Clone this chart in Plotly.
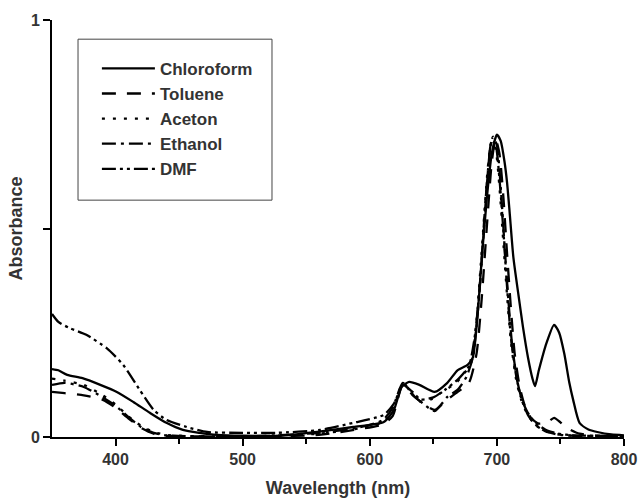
import plotly.graph_objects as go

# ---- data ----
chloroform_x = [350, 355, 362, 374, 388, 401, 414, 427, 440, 453, 466, 480, 500, 530, 560, 587, 611, 619, 625, 631, 639, 651, 661, 669, 677, 681, 685, 688, 692, 696, 700, 703, 706, 708, 710, 713, 717, 720.5, 724.5, 728, 730, 733, 739, 745, 749, 753, 757, 760, 765, 772, 779, 790, 800]
chloroform_y = [0.163, 0.160, 0.149, 0.141, 0.125, 0.108, 0.084, 0.058, 0.034, 0.017, 0.010, 0.005, 0.003, 0.003, 0.013, 0.024, 0.036, 0.065, 0.120, 0.132, 0.125, 0.108, 0.130, 0.160, 0.173, 0.190, 0.300, 0.424, 0.570, 0.680, 0.725, 0.710, 0.660, 0.610, 0.540, 0.430, 0.340, 0.264, 0.190, 0.140, 0.122, 0.160, 0.225, 0.269, 0.250, 0.200, 0.130, 0.089, 0.034, 0.018, 0.012, 0.006, 0.004]

toluene_x = [350, 360, 375, 390, 400, 410, 420, 430, 440, 500, 560, 590, 610, 618, 626, 634, 642, 651, 661, 670, 678, 684, 688, 692, 696, 699, 702, 705, 708, 711, 714, 718, 722, 727, 733, 740, 745, 750, 755, 765, 780, 800]
toluene_y = [0.108, 0.105, 0.100, 0.089, 0.070, 0.045, 0.022, 0.008, 0.003, 0.001, 0.005, 0.018, 0.030, 0.050, 0.125, 0.100, 0.080, 0.065, 0.090, 0.110, 0.130, 0.200, 0.330, 0.500, 0.660, 0.715, 0.680, 0.580, 0.440, 0.310, 0.200, 0.120, 0.075, 0.045, 0.032, 0.036, 0.046, 0.035, 0.022, 0.008, 0.003, 0.002]

aceton_x = [350, 360, 375, 390, 400, 410, 420, 430, 440, 460, 500, 560, 590, 610, 618, 626, 633, 640, 648, 658, 668, 675, 680, 684, 687, 690, 693, 696, 699, 702, 705, 708, 711, 715, 719, 724, 730, 736, 745, 755, 800]
aceton_y = [0.140, 0.135, 0.125, 0.100, 0.078, 0.050, 0.027, 0.012, 0.005, 0.002, 0.001, 0.008, 0.020, 0.035, 0.060, 0.130, 0.105, 0.085, 0.090, 0.110, 0.130, 0.155, 0.180, 0.280, 0.400, 0.530, 0.650, 0.710, 0.690, 0.600, 0.470, 0.340, 0.230, 0.140, 0.090, 0.055, 0.030, 0.017, 0.008, 0.004, 0.002]

ethanol_x = [350, 360, 375, 390, 400, 410, 420, 430, 440, 500, 560, 590, 610, 618, 626, 634, 642, 651, 661, 669, 676, 681, 685, 689, 692, 695, 697, 700, 703, 706, 709, 712, 716, 720, 725, 730, 738, 748, 760, 800]
ethanol_y = [0.125, 0.130, 0.120, 0.095, 0.075, 0.048, 0.024, 0.010, 0.004, 0.001, 0.010, 0.022, 0.040, 0.070, 0.130, 0.100, 0.080, 0.062, 0.096, 0.113, 0.144, 0.190, 0.300, 0.460, 0.600, 0.700, 0.720, 0.700, 0.600, 0.460, 0.330, 0.220, 0.135, 0.085, 0.050, 0.030, 0.014, 0.006, 0.003, 0.002]

dmf_x = [350, 355, 364, 377, 393, 406, 419, 430, 440, 456, 472, 500, 527, 561, 587, 611, 619, 626, 633, 640, 650, 660, 670, 678, 683, 687, 690, 693, 696, 699, 702, 705, 708, 711, 715, 719, 724, 730, 738, 748, 760, 800]
dmf_y = [0.295, 0.276, 0.261, 0.245, 0.213, 0.173, 0.113, 0.065, 0.041, 0.024, 0.012, 0.010, 0.010, 0.017, 0.034, 0.053, 0.080, 0.125, 0.110, 0.090, 0.095, 0.115, 0.140, 0.170, 0.250, 0.380, 0.520, 0.640, 0.710, 0.700, 0.620, 0.500, 0.360, 0.240, 0.150, 0.095, 0.060, 0.035, 0.018, 0.008, 0.004, 0.002]

series_names = ["Chloroform", "Toluene", "Aceton", "Ethanol", "DMF"]
x_tick_vals = [400, 500, 600, 700, 800]
x_tick_text = ["400", "500", "600", "700", "800"]
x_minor_vals = [450, 550, 650, 750]
y_tick_vals = [0, 0.5, 1]
y_tick_text = ["0", "", "1"]

series = [
    (chloroform_x, chloroform_y, "solid"),
    (toluene_x, toluene_y, "14px,11px"),
    (aceton_x, aceton_y, "3px,8px"),
    (ethanol_x, ethanol_y, "14px,5px,3px,5px"),
    (dmf_x, dmf_y, "14px,4px,3px,4px,3px,4px"),
]

FONT = "Liberation Sans, Arial, sans-serif"
TXT = "#333333"

fig = go.Figure()
for name, (xs, ys, dash) in zip(series_names, series):
    fig.add_trace(go.Scatter(
        x=xs, y=ys, name=name, mode="lines",
        line=dict(color="black", width=2.3, dash=dash, shape="spline", smoothing=0.6),
    ))

# legend frame
fig.add_shape(type="rect", xref="paper", yref="paper",
              x0=0.0455, x1=0.3846, y0=0.568, y1=0.954,
              line=dict(color="#444", width=1), fillcolor="rgba(0,0,0,0)")

fig.update_layout(
    width=642, height=498,
    margin=dict(l=52, r=18, t=20, b=61),
    paper_bgcolor="white", plot_bgcolor="white",
    font=dict(family=FONT, color=TXT),
    showlegend=True,
    legend=dict(x=0.0785, y=0.926, xanchor="left", yanchor="top",
                bgcolor="rgba(0,0,0,0)", borderwidth=0,
                font=dict(family=FONT, size=17, color=TXT, weight="bold"),
                itemwidth=53, tracegroupgap=0),
    xaxis=dict(range=[350, 800], showline=True, linecolor="black", linewidth=2,
               showgrid=False, zeroline=False, automargin=False,
               tickvals=x_tick_vals, ticktext=x_tick_text,
               ticks="outside", ticklen=7, tickwidth=1.5, tickcolor="black",
               ticklabelstandoff=0,
               minor=dict(tickvals=x_minor_vals, ticks="outside", ticklen=5, tickwidth=1.5, tickcolor="black"),
               tickfont=dict(family=FONT, size=16, color=TXT, weight="bold"),
               title=dict(text="Wavelength (nm)", standoff=18,
                          font=dict(family=FONT, size=18, color=TXT, weight="bold"))),
    yaxis=dict(range=[0, 1], showline=True, linecolor="black", linewidth=2,
               showgrid=False, zeroline=False, automargin=False,
               tickvals=y_tick_vals, ticktext=y_tick_text,
               ticks="outside", ticklen=7, tickwidth=1.5, tickcolor="black",
               ticklabelstandoff=0,
               tickfont=dict(family=FONT, size=16, color=TXT, weight="bold"),
               title=dict(text="Absorbance", standoff=4,
                          font=dict(family=FONT, size=18, color=TXT, weight="bold"))),
)

fig.write_html("out.html")
